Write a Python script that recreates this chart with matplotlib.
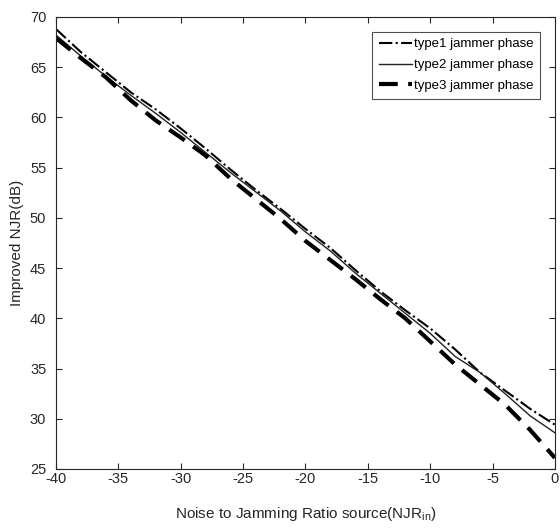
import matplotlib.pyplot as plt

# noise to jamming ratio of the source (dB)
njr_in = [-40, -38, -36, -34, -32, -30, -28, -26, -24, -22, -20,
          -18, -16, -14, -12, -10, -8, -6, -4, -2, 0]

# improved NJR for the three jammer phase types (dB)
type1 = [68.8, 66.5, 64.5, 62.5, 60.8, 58.9, 56.9, 54.8, 52.8, 50.9, 48.9,
         47.0, 44.8, 42.7, 40.8, 39.0, 36.9, 34.6, 32.8, 31.0, 29.4]
type2 = [68.2, 66.1, 64.1, 62.2, 60.4, 58.5, 56.5, 54.5, 52.6, 50.7, 48.6,
         46.7, 44.5, 42.5, 40.5, 38.5, 36.2, 34.6, 32.5, 30.3, 28.6]
type3 = [67.9, 65.9, 64.0, 61.7, 59.7, 58.0, 56.2, 53.9, 51.9, 49.9, 47.7,
         45.8, 43.9, 41.9, 40.0, 37.7, 35.4, 33.4, 31.4, 28.9, 26.1]

plt.rcParams['font.family'] = ['Liberation Sans', 'DejaVu Sans']
plt.rcParams['axes.unicode_minus'] = False

fig = plt.figure(figsize=(5.6, 5.31), dpi=100)
ax = fig.add_axes([0.1, 0.1168, 0.891, 0.8512])

ax.plot(njr_in, type1, color='black', linestyle='-.', linewidth=1.5,
        label='type1 jammer phase')
ax.plot(njr_in, type2, color='#222222', linestyle='-', linewidth=1.0,
        label='type2 jammer phase')
ax.plot(njr_in, type3, color='black', linestyle='--', linewidth=3.0,
        dashes=(4.5, 2.5), label='type3 jammer phase')

ax.set_xlim(-40, 0)
ax.set_ylim(25, 70)
ax.set_xticks(range(-40, 1, 5))
ax.set_yticks(range(25, 71, 5))
ax.tick_params(direction='in', top=True, right=True, labelsize=10.5,
               length=4, width=0.8, colors='#262626')
ax.tick_params(axis='x', pad=2)
ax.tick_params(axis='y', pad=7)
for s in ax.spines.values():
    s.set_color('#262626')
    s.set_linewidth(0.8)

ax.set_xlabel('Noise to Jamming Ratio source(NJR$_{\\mathregular{in}}$)',
              fontsize=11, color='#262626', labelpad=14)
ax.set_ylabel('Improved NJR(dB)', fontsize=11, color='#262626', labelpad=4)

leg = ax.legend(loc='upper right', fontsize=9.5, frameon=True, fancybox=False,
                edgecolor='#262626', handlelength=2.5, handletextpad=0.2,
                borderpad=0.5, labelspacing=0.65, borderaxespad=1.1)
leg.get_frame().set_linewidth(0.8)

plt.savefig('out.png', dpi=100)
